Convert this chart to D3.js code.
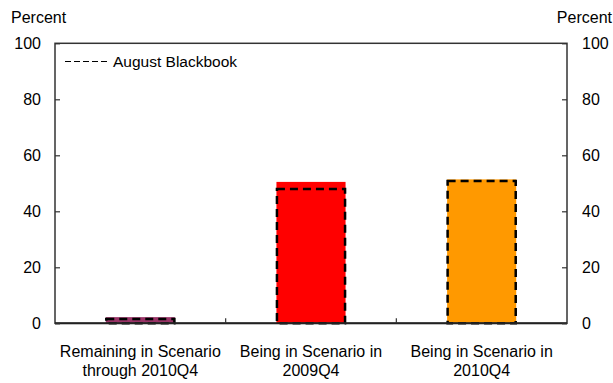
<!DOCTYPE html>
<html><head><meta charset="utf-8">
<script src="https://cdn.jsdelivr.net/npm/d3@7/dist/d3.min.js"></script>
<style>body{margin:0;background:#fff}svg{display:block;font-family:"Liberation Sans",Arial,sans-serif}</style>
</head><body><svg id="c" width="613" height="383"></svg>
<script>
const categories = [["Remaining in Scenario","through 2010Q4"],["Being in Scenario in","2009Q4"],["Being in Scenario in","2010Q4"]];
const values = [2.2, 50.5, 51.4];
const blackbook = [1.5, 48.0, 50.8];
const colors = ["#993366", "#FF0000", "#FF9900"];
const yTicks = [0, 20, 40, 60, 80, 100];
const legendLabel = "August Blackbook";
const unitLabel = "Percent";

const svg = d3.select("#c");
const m = {l:55, r:567, t:43.3, b:323.3};
const x = d3.scaleBand().domain(d3.range(categories.length)).range([m.l, m.r]).paddingInner(0).paddingOuter(0);
const y = d3.scaleLinear().domain([0,100]).range([m.b, m.t]);
const bw = x.bandwidth()*0.405;

// bars
svg.selectAll("rect.bar").data(values).join("rect")
  .attr("x",(d,i)=>x(i)+x.bandwidth()/2-bw/2).attr("width",bw)
  .attr("y",d=>y(d)).attr("height",d=>y(0)-y(d)).attr("fill",(d,i)=>colors[i]);
// dashed blackbook
svg.selectAll("rect.bb").data(blackbook).join("rect")
  .attr("x",(d,i)=>x(i)+x.bandwidth()/2-bw/2+0.5).attr("width",bw-1)
  .attr("y",d=>y(d)).attr("height",d=>y(0)-y(d))
  .attr("fill","none").attr("stroke","#000").attr("stroke-width",2.5).attr("stroke-dasharray","8,5");

// frame
const ax = "#333";
svg.append("rect").attr("x",m.l).attr("y",m.t).attr("width",m.r-m.l).attr("height",m.b-m.t)
  .attr("fill","none").attr("stroke",ax).attr("stroke-width",1.5);
svg.append("line").attr("x1",m.l).attr("x2",m.r).attr("y1",m.b).attr("y2",m.b)
  .attr("stroke","#222").attr("stroke-width",2);

// y axes
const yl = svg.append("g").attr("transform",`translate(${m.l},0)`)
  .call(d3.axisLeft(y).tickValues(yTicks).tickSize(-5).tickPadding(14));
const yr = svg.append("g").attr("transform",`translate(${m.r},0)`)
  .call(d3.axisRight(y).tickValues(yTicks).tickSize(-5).tickPadding(15));
[yl,yr].forEach(g=>{g.select(".domain").remove();
  g.selectAll("line").attr("stroke",ax).attr("stroke-width",1.2);
  g.selectAll("text").attr("font-size",16).attr("fill","#000").attr("dy","0.34em")
   .attr("font-family","Liberation Sans, Arial, sans-serif");});

// x ticks between bands
const xt = svg.append("g");
xt.selectAll("line").data(d3.range(1,categories.length)).join("line")
  .attr("x1",i=>x(i)).attr("x2",i=>x(i)).attr("y1",m.b).attr("y2",m.b-5)
  .attr("stroke",ax).attr("stroke-width",1.2);

// x labels
svg.selectAll("text.xl").data(categories).join("text")
  .attr("text-anchor","middle").attr("font-size",16).attr("fill","#000")
  .attr("transform",(d,i)=>`translate(${x(i)+x.bandwidth()/2},0)`)
  .selectAll("tspan").data(d=>d).join("tspan")
  .attr("x",0).attr("y",(d,j)=>357+j*19).text(d=>d);

// unit labels
svg.append("text").attr("x",11).attr("y",22.5).attr("font-size",16).text(unitLabel);
svg.append("text").attr("x",612).attr("y",22.5).attr("font-size",16).attr("text-anchor","end").text(unitLabel);

// legend
svg.append("line").attr("x1",65).attr("x2",107).attr("y1",61.5).attr("y2",61.5)
  .attr("stroke","#000").attr("stroke-width",1.2).attr("stroke-dasharray","6,3");
svg.append("text").attr("x",113).attr("y",67).attr("font-size",15.5).text(legendLabel);
</script></body></html>
